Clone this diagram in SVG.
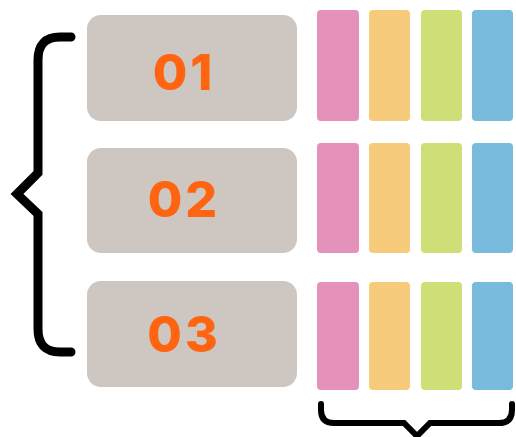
<svg xmlns="http://www.w3.org/2000/svg" width="516" height="437" viewBox="0 0 516 437">
<style>
.box{fill:#CDC6C1}
.num{font-family:Inter,"Open Sans",sans-serif;font-weight:800;font-size:50px;fill:#FF6511;text-anchor:middle;letter-spacing:3px}
.p{fill:#E592BB}.o{fill:#F7CB7C}.g{fill:#D0DE78}.b{fill:#78BBDC}
.br{fill:none;stroke:#000;stroke-linecap:round;stroke-linejoin:miter}
</style>
<rect width="516" height="437" fill="#fff"/>
<g id="connectors">
<path class="br" stroke-width="9" d="M71,37 H60 Q38,37 38,60 V173 L17,194 L38,214 V329 Q38,352 60,352 H71"/>
<path class="br" stroke-width="6" d="M321,404 V410 Q321,423 334,423 H404 L417,436 L430,423 H499 Q512,423 512,410 V404"/>
</g>
<g id="row1">
<rect class="box" x="87" y="15" width="210" height="106" rx="14"/>
<text class="num" x="184" y="90">01</text>
<rect class="p" x="317" y="10" width="42" height="111" rx="4"/>
<rect class="o" x="369" y="10" width="41" height="111" rx="4"/>
<rect class="g" x="421" y="10" width="41" height="111" rx="4"/>
<rect class="b" x="472" y="10" width="41" height="111" rx="4"/>
</g>
<g id="row2">
<rect class="box" x="87" y="148" width="210" height="105" rx="14"/>
<text class="num" x="184" y="217">02</text>
<rect class="p" x="317" y="143" width="42" height="110" rx="4"/>
<rect class="o" x="369" y="143" width="41" height="110" rx="4"/>
<rect class="g" x="421" y="143" width="41" height="110" rx="4"/>
<rect class="b" x="472" y="143" width="41" height="110" rx="4"/>
</g>
<g id="row3">
<rect class="box" x="87" y="281" width="210" height="106" rx="14"/>
<text class="num" x="184" y="352">03</text>
<rect class="p" x="317" y="282" width="42" height="108" rx="4"/>
<rect class="o" x="369" y="282" width="41" height="108" rx="4"/>
<rect class="g" x="421" y="282" width="41" height="108" rx="4"/>
<rect class="b" x="472" y="282" width="41" height="108" rx="4"/>
</g>
</svg>
